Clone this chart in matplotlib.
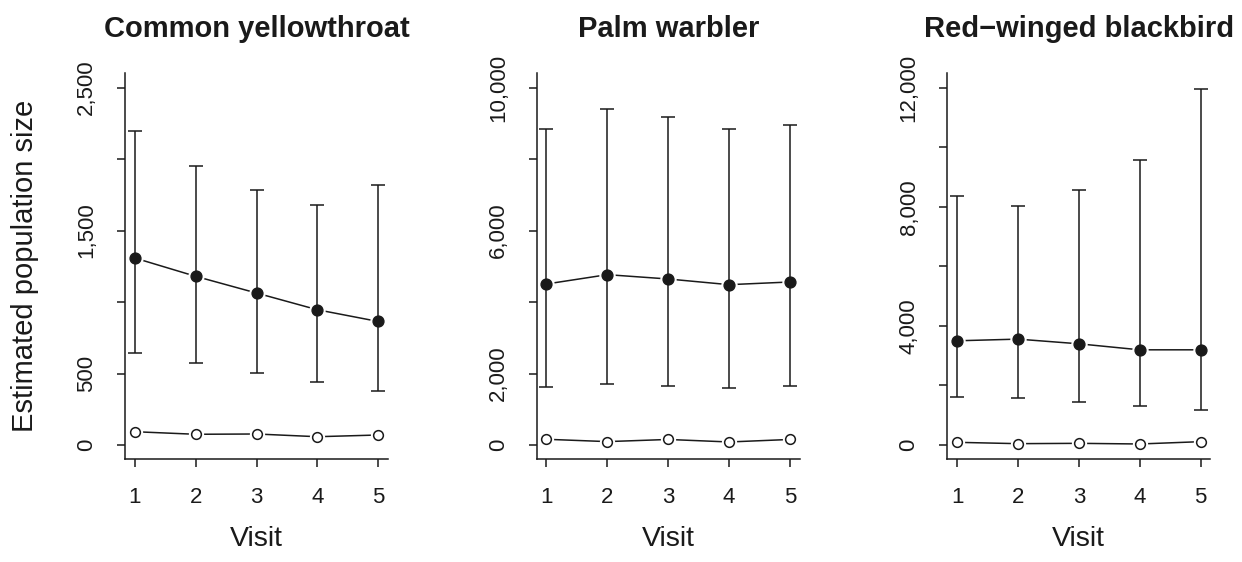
import matplotlib
matplotlib.use('Agg')
import matplotlib.pyplot as plt

plt.rcParams['font.family'] = ['Liberation Sans', 'DejaVu Sans']

# ---- data ----
visits = [1, 2, 3, 4, 5]
titles = ["Common yellowthroat", "Palm warbler", "Red\u2212winged blackbird"]

cy_est = [1308, 1180, 1063, 946, 864]
cy_lo = [643, 575, 507, 444, 381]
cy_hi = [2194, 1955, 1787, 1677, 1822]
cy_obs = [93, 75, 77, 58, 70]

pw_est = [4505, 4766, 4645, 4486, 4561]
pw_lo = [1617, 1701, 1654, 1607, 1645]
pw_hi = [8831, 9400, 9167, 8840, 8963]
pw_obs = [160, 95, 155, 85, 155]

rw_est = [3499, 3555, 3398, 3196, 3196]
rw_lo = [1626, 1581, 1447, 1312, 1177]
rw_hi = [8377, 8018, 8556, 9554, 11967]
rw_obs = [90, 45, 56, 34, 112]

cy_yticks = [0, 500, 1000, 1500, 2000, 2500]
cy_ylabels = ["0", "500", "", "1,500", "", "2,500"]
pw_yticks = [0, 2000, 4000, 6000, 8000, 10000]
pw_ylabels = ["0", "2,000", "", "6,000", "", "10,000"]
rw_yticks = [0, 2000, 4000, 6000, 8000, 10000, 12000]
rw_ylabels = ["0", "", "4,000", "", "8,000", "", "12,000"]

panels = [
    (cy_est, cy_lo, cy_hi, cy_obs, cy_yticks, cy_ylabels, 2500),
    (pw_est, pw_lo, pw_hi, pw_obs, pw_yticks, pw_ylabels, 10000),
    (rw_est, rw_lo, rw_hi, rw_obs, rw_yticks, rw_ylabels, 12000),
]

W, H = 1242, 562
fig = plt.figure(figsize=(W / 100, H / 100), dpi=100)
col = '#1a1a1a'
lefts = [125, 536.7, 947.3]
ax_w, ax_top, ax_bot = 263, 73.3, 459.3
lw = 1.1

for i, (est, lo, hi, obs, yt, yl, ymax) in enumerate(panels):
    ax = fig.add_axes([lefts[i] / W, (H - ax_bot) / H, ax_w / W, (ax_bot - ax_top) / H])
    for s in ['top', 'right']:
        ax.spines[s].set_visible(False)
    for s in ['left', 'bottom']:
        ax.spines[s].set_linewidth(lw)
        ax.spines[s].set_color(col)
    ax.set_xlim(0.84, 5.16)
    ax.set_ylim(-0.04 * ymax, 1.04 * ymax)

    # estimated (filled) series
    ax.plot(visits, est, '-', color=col, lw=lw, zorder=2)
    ax.plot(visits, est, 'o', ms=10.8, mfc='white', mec='white', zorder=3)
    yerr = [[e - l for e, l in zip(est, lo)], [h - e for e, h in zip(est, hi)]]
    ax.errorbar(visits, est, yerr=yerr, fmt='none', ecolor=col, elinewidth=lw,
                capsize=4.7, capthick=lw, zorder=4)
    ax.plot(visits, est, 'o', ms=7.8, mfc=col, mec=col, zorder=5)

    # observed (open) series
    ax.plot(visits, obs, '-', color=col, lw=lw, zorder=2)
    ax.plot(visits, obs, 'o', ms=10, mfc='white', mec='white', zorder=3)
    ax.plot(visits, obs, 'o', ms=7, mfc='white', mec=col, mew=lw, zorder=5)

    ax.set_xticks(visits)
    ax.set_xticklabels([str(v) for v in visits])
    ax.set_yticks(yt)
    ax.set_yticklabels(yl, rotation=90, va='center')
    ax.tick_params(axis='both', direction='out', length=6, width=lw, color=col,
                   labelsize=16, labelcolor=col)
    ax.tick_params(axis='y', pad=14)
    ax.tick_params(axis='x', pad=14)

    cx = (lefts[i] + ax_w / 2) / W
    fig.text(cx, (H - 37) / H, titles[i], ha='center', va='baseline',
             fontsize=21, fontweight='bold', color=col)
    fig.text(cx, (H - 546) / H, "Visit", ha='center', va='baseline',
             fontsize=20.5, color=col)

fig.text(33 / W, (H - (ax_top + ax_bot) / 2) / H, "Estimated population size",
         rotation=90, rotation_mode='anchor', ha='center', va='baseline',
         fontsize=21, color=col)

fig.savefig('out.png', dpi=100)
